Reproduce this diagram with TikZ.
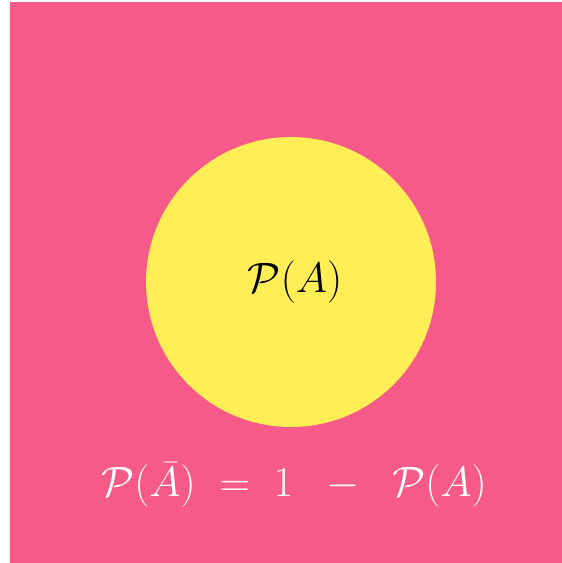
\documentclass[tikz,border=0pt]{standalone}
\usepackage{amsmath}
\definecolor{bgpink}{RGB}{246,90,136}
\definecolor{discyellow}{RGB}{255,238,85}
\begin{document}
\begin{tikzpicture}[x=1pt, y=-1pt,
  every node/.style={inner sep=0pt},
  event/.style={circle, fill=discyellow, minimum size=290pt},
  label/.style={font=\huge, scale=2.05}]
            \useasboundingbox (0,0) rectangle (562,563);
            \fill[bgpink] (10,2) rectangle (562,563);
            \node[event] (evA) at (291,282) {};
            \node[label, text=black] (pA) at (295,282) {$\mathcal{P}(A)$};
            \node[label, text=white] (rule) at (294,485) {$\mathcal{P}(\bar{A}) \;=\; 1 \;\;-\;\; \mathcal{P}(A)$};
        \end{tikzpicture}
\end{document}
